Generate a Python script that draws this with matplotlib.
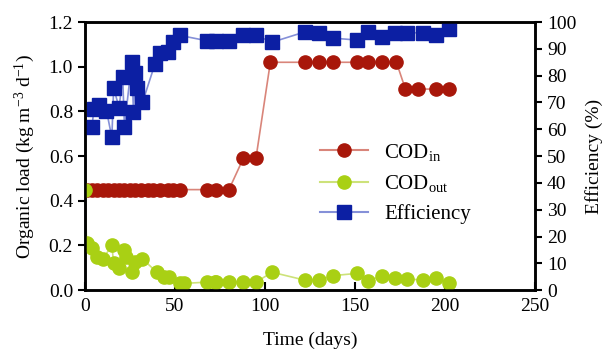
import matplotlib
matplotlib.use("Agg")
import matplotlib.pyplot as plt
from matplotlib.lines import Line2D

plt.rcParams['font.family'] = ['Liberation Serif', 'DejaVu Serif']
plt.rcParams['mathtext.fontset'] = 'custom'
plt.rcParams['mathtext.rm'] = 'Liberation Serif'
plt.rcParams['mathtext.it'] = 'Liberation Serif:italic'

# COD in (organic loading rate)
days_in = [1, 4, 7, 10, 13, 16, 19, 22, 25, 28, 31, 35, 38, 42, 46, 49, 53,
           68, 73, 80, 88, 95, 103, 122, 130, 138, 151, 157, 165, 173,
           178, 185, 195, 202]
cod_in = [0.45] * 20 + [0.59, 0.59] + [1.02] * 8 + [0.90] * 4

# COD out
days_out = [0, 1, 4, 7, 10, 15, 16, 19, 22, 23, 26, 28, 32, 40, 44, 47, 53, 55,
            68, 72, 73, 80, 88, 95, 104, 122, 130, 138, 151, 157, 165, 172,
            179, 188, 195, 202]
cod_out = [0.45, 0.21, 0.19, 0.15, 0.14, 0.20, 0.12, 0.10, 0.18, 0.15, 0.08,
           0.125, 0.14, 0.08, 0.06, 0.06, 0.03, 0.03,
           0.036, 0.036, 0.036, 0.036, 0.036, 0.036, 0.08, 0.045, 0.045, 0.065,
           0.075, 0.04, 0.065, 0.055, 0.05, 0.045, 0.055, 0.03]

# efficiency (%)
days_eff = [4, 5, 8, 12, 15, 16, 19, 21, 22, 26, 27, 28, 29, 32, 39, 42, 46, 49,
            53, 68, 73, 80, 88, 95, 104, 122, 130, 138, 151, 157, 165, 172,
            179, 188, 195, 202]
eff = [61, 67.5, 69, 67, 57, 75.5, 68, 79.5, 61, 85, 66.5, 81, 75.5, 70,
       84.5, 88.5, 89, 92.5, 95, 93, 93, 93, 95, 95, 92.5, 96.3, 96, 94,
       93.3, 96.3, 94.4, 96, 96, 96, 95, 97.4]

red = '#A8170A'
green = '#A9D014'
blue = '#0C1FA3'
ms = 9.5

fig = plt.figure(figsize=(6.06, 3.56), dpi=100)
ax = fig.add_axes([0.140, 0.185, 0.743, 0.753])
ax2 = ax.twinx()

ax.plot(days_in, cod_in, '-', color='#D9857A', lw=1.2, zorder=2)
ax.plot(days_in, cod_in, 'o', color=red, ms=ms, mec=red, zorder=3)
ax.plot(days_out, cod_out, '-', color='#CDE27A', lw=1.2, zorder=2)
ax.plot(days_out, cod_out, 'o', color=green, ms=ms, mec=green, zorder=4)
ax2.plot(days_eff, eff, '-', color='#8590D8', lw=1.2)
ax2.plot(days_eff, eff, 's', color=blue, ms=ms, mec=blue)

ax.set_xlim(0, 250)
ax.set_ylim(0, 1.2)
ax2.set_ylim(0, 100)
ax.set_xticks([0, 50, 100, 150, 200, 250])
ax.set_yticks([0, 0.2, 0.4, 0.6, 0.8, 1.0, 1.2])
ax.set_yticklabels(['0.0', '0.2', '0.4', '0.6', '0.8', '1.0', '1.2'])
ax2.set_yticks(range(0, 101, 10))

for a in (ax, ax2):
    for s in a.spines.values():
        s.set_linewidth(1.8)
ax.tick_params(axis='x', direction='in', length=6, width=1.5, labelsize=14, pad=6)
ax.tick_params(axis='y', direction='out', length=5, width=1.5, labelsize=14)
ax2.tick_params(axis='y', direction='out', length=5, width=1.5, labelsize=14)

ax.set_xlabel('Time (days)', fontsize=14, labelpad=12)
ax.set_ylabel('Organic load (kg m$^{-3}$ d$^{-1}$)', fontsize=14, labelpad=8)
ax2.set_ylabel('Efficiency (%)', fontsize=14, labelpad=6)

handles = [
    Line2D([], [], color='#D9857A', marker='o', mfc=red, mec=red, ms=ms),
    Line2D([], [], color='#CDE27A', marker='o', mfc=green, mec=green, ms=ms),
    Line2D([], [], color='#8590D8', marker='s', mfc=blue, mec=blue, ms=ms),
]
labels = ['COD$_{\\mathrm{in}}$', 'COD$_{\\mathrm{out}}$', 'Efficiency']
ax.legend(handles, labels, loc='center', bbox_to_anchor=(0.69, 0.40),
          frameon=False, fontsize=15, handlelength=2.3, labelspacing=0.5)

fig.savefig('out.png', dpi=100)
